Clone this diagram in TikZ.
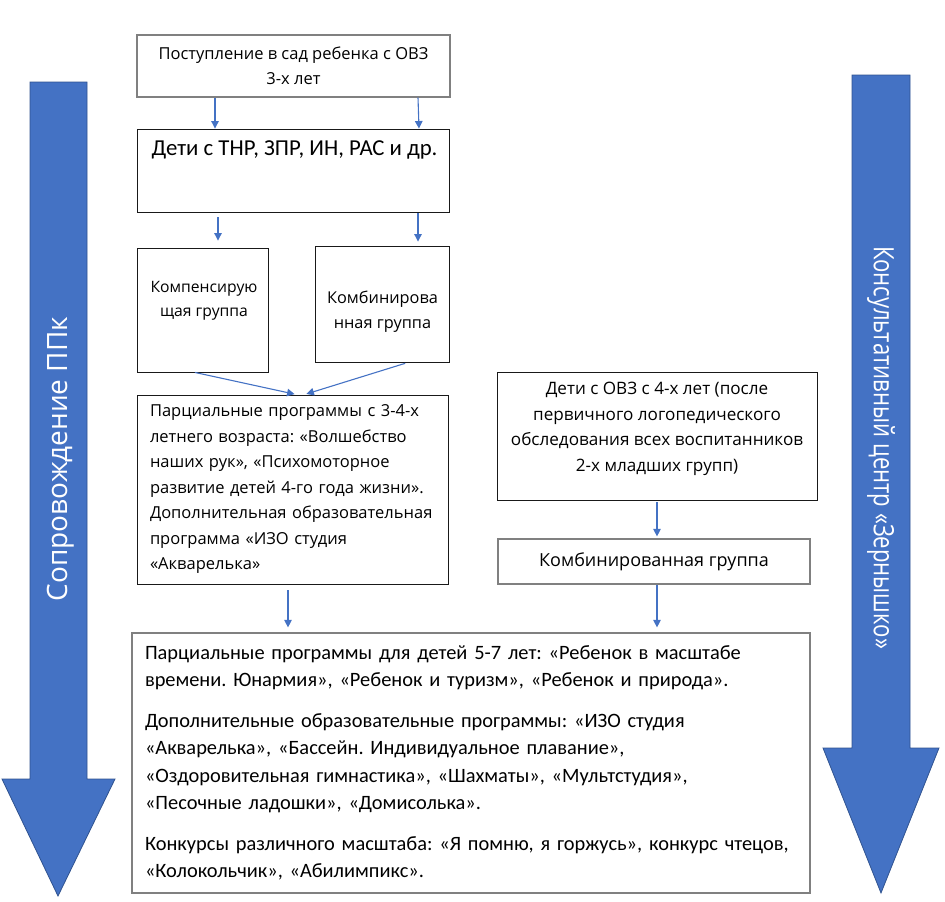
\documentclass[tikz,border=0pt]{standalone}
\usepackage{fontspec}
\setmainfont{Open Sans}
\newfontfamily\calfont{Carlito}
\usepackage{graphicx}
\usepackage{tikz}
\usetikzlibrary{positioning, arrows.meta}
\definecolor{arrblue}{RGB}{68,114,196}
\definecolor{arrdark}{RGB}{47,82,143}
\frenchspacing
\tikzstyle{bx}=[%
      rectangle, draw=black!90, line width=0.9pt, fill=white,
      inner sep=0pt, align=center, font=\fontsize{16.5}{25.5}\selectfont
]
\tikzstyle{gbx}=[%
      bx, draw=black!50, line width=1.2pt
]
\tikzstyle{tx}=[%
      inner sep=0pt, align=center, font=\fontsize{16.3}{24.5}\selectfont
]
\tikzstyle{ln}=[%
      draw=arrblue, line width=1.1pt, -{Triangle[length=7.5pt,width=7.5pt]}
]
\tikzstyle{big}=[%
      fill=arrblue, draw=arrdark, line width=0.8pt
]
\tikzstyle{bt}=[%
      text=white, inner sep=0pt, font=\fontsize{28}{30}\selectfont
]

\begin{document}
\begin{tikzpicture}[x=1pt, y=-1pt]
    \useasboundingbox (0,0) rectangle (945,902);

    % side arrows
    \draw[big] (30,82) -- (87,82) -- (87,779) -- (115,779) -- (58,896) -- (2,779) -- (30,779) -- cycle;
    \draw[big] (852,75) -- (910,75) -- (910,748) -- (939,748) -- (881,893) -- (823,748) -- (852,748) -- cycle;
    \node[bt, rotate=90]  (ppk)  at (61,459) {Сопровождение ППк};
    \node[bt, rotate=-90] (zern) at (881,447.5) {\scalebox{0.79}[1]{Консультативный центр «Зернышко»}};

    % left column
    \node[gbx, minimum width=313pt, minimum height=62pt] (entry) at (293.5,66)
        {Поступление в сад ребенка с ОВЗ\\3-х лет};
    \node[bx, minimum width=312pt, minimum height=83pt] (kids) at (293,170.5) {};
    \node[tx, font=\calfont\fontsize{22.8}{26}\selectfont] (kidsT) at (294.5,150)
        {Дети с ТНР, ЗПР, ИН, РАС и др.};
    \node[bx, minimum width=131pt, minimum height=124pt] (comp) at (202.5,310) {};
    \node[tx, font=\fontsize{15.7}{24}\selectfont] (compT) at (204,301) {Компенсирую\\щая группа};
    \node[bx, minimum width=134pt, minimum height=116pt] (comb) at (382,304) {};
    \node[tx] (combT) at (382.5,311.5) {Комбинирова\\нная группа};
    \node[bx, minimum width=311pt, minimum height=189pt, text width=285pt, align=left] (part) at (292.5,489.5)
        {Парциальные программы с 3-4-х\\
         летнего возраста: «Волшебство\\
         наших рук», «Психомоторное\\
         развитие детей 4-го года жизни».\\
         Дополнительная образовательная\\
         программа «ИЗО студия\\
         «Акварелька»};

    % right column
    \node[bx, minimum width=320pt, minimum height=128pt] (four) at (657,436) {};
    \node[tx, font=\fontsize{17.1}{25.5}\selectfont] (fourT) at (657,429)
        {Дети с ОВЗ с 4-х лет (после\\
         первичного логопедического\\
         обследования всех воспитанников\\
         2-х младших групп)};
    \node[gbx, minimum width=312pt, minimum height=45pt, font=\fontsize{18}{20}\selectfont] (group) at (654,561.5)
        {Комбинированная группа};

    % bottom
    \node[gbx, minimum width=678pt, minimum height=260pt, text width=652pt, align=left,
          font=\calfont\fontsize{20.4}{27.5}\selectfont] (older) at (471,763)
        {Парциальные программы для детей 5-7 лет: «Ребенок в масштабе\\
         времени. Юнармия», «Ребенок и туризм», «Ребенок и природа».\\[13pt]
         Дополнительные образовательные программы: «ИЗО студия\\
         «Акварелька», «Бассейн. Индивидуальное плавание»,\\
         «Оздоровительная гимнастика», «Шахматы», «Мультстудия»,\\
         «Песочные ладошки», «Домисолька».\\[13pt]
         Конкурсы различного масштаба: «Я помню, я горжусь», конкурс чтецов,\\
         «Колокольчик», «Абилимпикс».};

    \draw[ln] ([xshift=-78.5pt]entry.south) -- ([xshift=-78pt]kids.north);
    \draw[ln] ([xshift=124.5pt]entry.south) -- ([xshift=126pt]kids.north);
    \draw[ln, shorten <=5pt, shorten >=7pt] ([xshift=-75pt]kids.south) -- ([xshift=15.5pt]comp.north);
    \draw[ln, shorten <=1pt, shorten >=4pt] ([xshift=125pt]kids.south) -- ([xshift=36pt]comb.north);
    \draw[ln, shorten >=2pt] ([xshift=-7.5pt]comp.south) -- ([xshift=4pt]part.north);
    \draw[ln, shorten <=3pt, shorten >=2pt] ([xshift=26pt]comb.south) -- ([xshift=12pt]part.north);
    \draw[ln, shorten <=6pt, shorten >=5pt] ([xshift=-4.5pt]part.south) -- ([xshift=-4.5pt]part.south |- older.north);
    \draw[ln, shorten <=2pt, shorten >=2pt] (four.south) -- (four.south |- group.north);
    \draw[ln, shorten >=5pt] ([xshift=3pt]group.south) -- ([xshift=3pt]group.south |- older.north);
\end{tikzpicture}
\end{document}
